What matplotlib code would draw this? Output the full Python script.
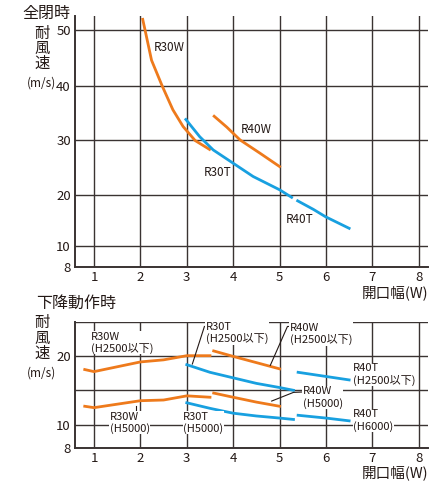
import numpy as np
import matplotlib.pyplot as plt

plt.rcParams['font.family'] = ['Noto Sans CJK JP', 'DejaVu Sans']

ORANGE = '#EE7A1C'
BLUE = '#18A0E0'
GRID = '#3A3332'
TXT = '#231815'

# --- 全閉時 (fully closed) ---
r30w_x = [2.05, 2.1, 2.24, 2.47, 2.70, 2.92, 3.18, 3.49]
r30w_y = [51.9, 50.0, 44.6, 40.0, 35.6, 32.5, 29.9, 28.3]
r40w_x = [3.59, 3.86, 4.15, 4.58, 5.0]
r40w_y = [34.4, 32.4, 30.0, 27.6, 25.2]
r30t_x = [2.98, 3.28, 3.57, 4.0, 4.43, 5.0, 5.26]
r30t_y = [33.8, 30.6, 28.2, 25.8, 23.4, 21.0, 19.6]
r40t_x = [5.39, 5.73, 5.99, 6.5]
r40t_y = [18.9, 17.2, 15.75, 13.45]

# --- 下降動作時 (while descending) ---
w30_x = [0.8, 1.0, 2.0, 2.5, 3.0, 3.5]
w30_h2500 = [18.0, 17.7, 19.1, 19.4, 20.0, 20.0]
w30_h5000 = [12.7, 12.5, 13.5, 13.6, 14.2, 14.0]
w40_x = [3.58, 4.0, 4.5, 5.0]
w40_h2500 = [20.7, 19.9, 19.0, 18.1]
w40_h5000 = [14.6, 14.0, 13.3, 12.7]
t30_x = [3.0, 3.5, 4.0, 4.5, 5.0, 5.3]
t30_h2500 = [18.7, 17.6, 16.8, 16.0, 15.4, 15.0]
t30_h5000 = [13.2, 12.4, 11.7, 11.3, 11.0, 10.8]
t40_x = [5.4, 6.0, 6.5]
t40_h2500 = [17.6, 17.0, 16.5]
t40_h6000 = [11.4, 11.0, 10.6]

x_ticks = [1, 2, 3, 4, 5, 6, 7, 8]
top_yticks = [8, 10, 20, 30, 40, 50]
bot_yticks = [8, 10, 15, 20, 25]
bot_ylabels = ['8', '10', '', '20', '']

W, H = 446, 483


def piecewise_scale(vals, pos):
    # the chart's y axis is not evenly spaced near the bottom
    lo = (pos[1] - pos[0]) / (vals[1] - vals[0])
    hi = (pos[-1] - pos[-2]) / (vals[-1] - vals[-2])
    v = [-1000] + list(vals) + [1000]
    p = [pos[0] - (vals[0] + 1000) * lo] + list(pos) + [pos[-1] + (1000 - vals[-1]) * hi]
    fwd = lambda y: np.interp(y, v, p)
    inv = lambda q: np.interp(q, p, v)
    return fwd, inv


def style_axes(ax, yticks, ylabels, ylim):
    ax.set_xlim(0.59, 8.2)
    ax.set_ylim(*ylim)
    ax.set_xticks(x_ticks)
    ax.set_yticks(yticks)
    ax.set_yticklabels(ylabels)
    ax.grid(True, color=GRID, lw=1.0)
    ax.set_axisbelow(True)
    for s in ['top', 'right']:
        ax.spines[s].set_visible(False)
    for s in ['left', 'bottom']:
        ax.spines[s].set_color(GRID)
        ax.spines[s].set_linewidth(1.4)
    ax.tick_params(length=0, labelsize=9.5, pad=3, colors=TXT)


def fig_text(x, y, s, **kw):
    fig.text(x / W, 1 - y / H, s, color=TXT, **kw)


fig = plt.figure(figsize=(W / 100, H / 100), dpi=100)

# top chart
ax1 = fig.add_axes([75 / W, 1 - 266.7 / H, 353 / W, 250.7 / H])
f, i = piecewise_scale([8, 10, 20, 30, 40, 50], [0, 21, 71.4, 126.7, 180.7, 236.7])
ax1.set_yscale('function', functions=(f, i))
style_axes(ax1, top_yticks, [str(t) for t in top_yticks], (8, 52.5))

lw = 2.0
ax1.plot(r30w_x, r30w_y, color=ORANGE, lw=lw)
ax1.plot(r40w_x, r40w_y, color=ORANGE, lw=lw)
ax1.plot(r30t_x, r30t_y, color=BLUE, lw=lw)
ax1.plot(r40t_x, r40t_y, color=BLUE, lw=lw)

lab = dict(fontsize=8.5, color=TXT, va='center', ha='left')
ax1.text(2.29, 46.8, 'R30W', **lab)
ax1.text(4.16, 32.0, 'R40W', **lab)
ax1.text(3.37, 24.2, 'R30T', **lab)
ax1.text(5.14, 15.1, 'R40T', **lab)

# bottom chart
ax2 = fig.add_axes([75 / W, 1 - 447.7 / H, 353 / W, 126 / H])
f2, i2 = piecewise_scale([8, 10, 15, 20, 25], [0, 22.7, 57.4, 92, 126])
ax2.set_yscale('function', functions=(f2, i2))
style_axes(ax2, bot_yticks, bot_ylabels, (8, 25))

ax2.plot(w30_x, w30_h2500, color=ORANGE, lw=lw)
ax2.plot(w30_x, w30_h5000, color=ORANGE, lw=lw)
ax2.plot(w40_x, w40_h2500, color=ORANGE, lw=lw)
ax2.plot(w40_x, w40_h5000, color=ORANGE, lw=lw)
ax2.plot(t30_x, t30_h2500, color=BLUE, lw=lw)
ax2.plot(t30_x, t30_h5000, color=BLUE, lw=lw)
ax2.plot(t40_x, t40_h2500, color=BLUE, lw=lw)
ax2.plot(t40_x, t40_h6000, color=BLUE, lw=lw)

# leader lines
lead = dict(color=TXT, lw=0.8)
ax2.plot([3.38, 3.12], [24.3, 18.8], **lead)
ax2.plot([5.22, 5.17, 4.80], [24.3, 24.3, 18.6], **lead)
ax2.plot([5.48, 5.3, 4.83], [14.75, 14.7, 13.45], **lead)
ax2.plot([1.9, 1.9], [12.7, 11.3], **lead)

blab = dict(fontsize=8, color=TXT, va='center', ha='left', linespacing=1.15,
            bbox=dict(facecolor='white', edgecolor='none', pad=0.3))
ax2.text(0.93, 21.9, 'R30W\n(H2500以下)', **blab)
ax2.text(3.41, 23.35, 'R30T\n(H2500以下)', **blab)
ax2.text(5.22, 23.2, 'R40W\n(H2500以下)', **blab)
ax2.text(6.59, 17.3, 'R40T\n(H2500以下)', **blab)
ax2.text(5.5, 13.96, 'R40W\n(H5000)', **blab)
ax2.text(6.59, 10.66, 'R40T\n(H6000)', **blab)
ax2.text(1.34, 10.3, 'R30W\n(H5000)', **blab)
ax2.text(2.92, 10.3, 'R30T\n(H5000)', **blab)

# titles and axis captions
fig_text(22, 13, '全閉時', fontsize=11.5, ha='left', va='center')
fig_text(36, 303, '下降動作時', fontsize=11.5, ha='left', va='center')
for y0 in (33, 290 + 32.7):
    for k, ch in enumerate('耐風速'):
        fig_text(42, y0 + k * 15.3, ch, fontsize=11, ha='center', va='center')
fig_text(56, 83, '(m/s)', fontsize=8.5, ha='right', va='center')
fig_text(56, 372.7, '(m/s)', fontsize=8.5, ha='right', va='center')
fig_text(428, 293, '開口幅(W)', fontsize=10.5, ha='right', va='center')
fig_text(428, 472.7, '開口幅(W)', fontsize=10.5, ha='right', va='center')

fig.savefig('out.png', dpi=100, facecolor='white')
